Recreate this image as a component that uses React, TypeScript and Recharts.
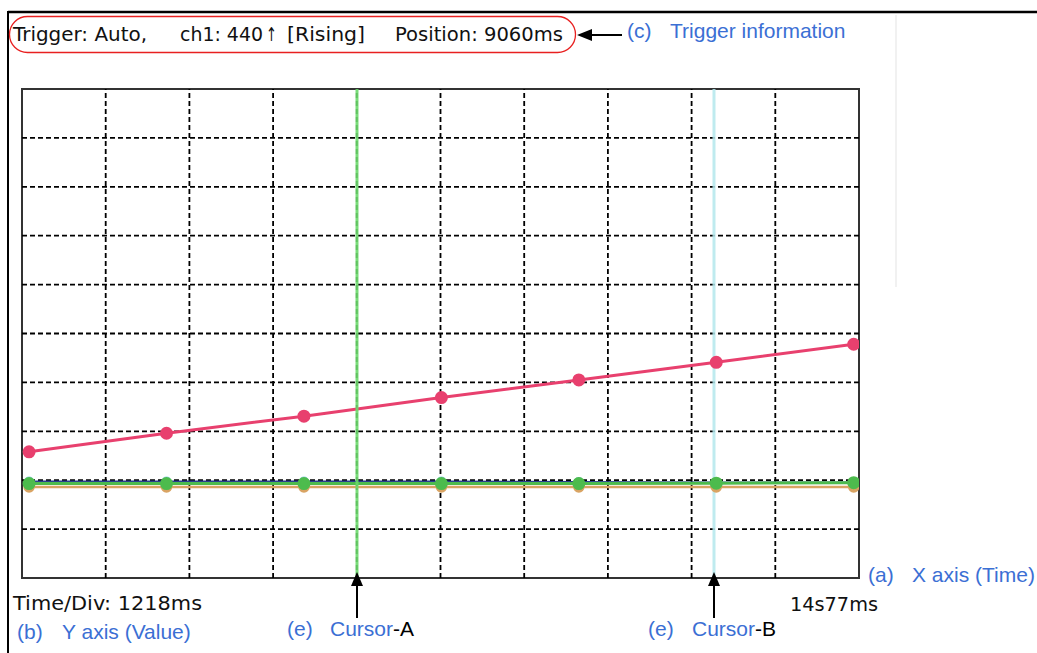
import React from 'react';
import { LineChart, Line, XAxis, YAxis, ReferenceLine, ReferenceArea } from 'recharts';

// time (ms) of sample points
const times = [2000, 4000, 6000, 8000, 10000, 12000, 14000];
// channel values (in divisions, 0..10)
const pinkValues = [2.58, 2.96, 3.31, 3.69, 4.05, 4.41, 4.78];
const greenValues = [1.93, 1.93, 1.93, 1.93, 1.93, 1.94, 1.95];
const orangeValues = [1.86, 1.86, 1.86, 1.86, 1.86, 1.86, 1.86];
const blueValues = [1.98, 1.98, 1.98, 1.98, 1.97, 1.96, 1.96];

const xDomain = [1897, 14077];
const yDomain = [0, 10];
const gridX = [3115, 4333, 5551, 6769, 7987, 9205, 10423, 11641, 12859];
const gridY = [1, 2, 3, 4, 5, 6, 7, 8, 9];
const cursorA = 6772;
const cursorB = 11967;

const data = times.map((t, i) => ({
  t,
  pink: pinkValues[i],
  green: greenValues[i],
  orange: orangeValues[i],
  blue: blueValues[i],
}));

const BLUE = '#3b6fd4';
const GOTHIC = '"DejaVu Sans", "Noto Sans", sans-serif';
const ARIAL = '"Liberation Sans", Arial, sans-serif';

export default function App() {
  return (
    <div style={{ position: 'absolute', left: 0, top: 0, width: 1037, height: 653, background: '#fff' }}>
      <LineChart
        width={1037}
        height={653}
        data={data}
        margin={{ top: 89, right: 178, bottom: 75, left: 22 }}
      >
        <XAxis dataKey="t" type="number" domain={xDomain} hide allowDataOverflow />
        <YAxis type="number" domain={yDomain} hide allowDataOverflow />
        {gridX.map((x) => (
          <ReferenceLine key={'gx' + x} x={x} stroke="#000" strokeWidth={1.8} strokeDasharray="5 3" />
        ))}
        {gridY.map((y) => (
          <ReferenceLine key={'gy' + y} y={y} stroke="#000" strokeWidth={1.8} strokeDasharray="5 3" />
        ))}
        <ReferenceArea x1={xDomain[0]} x2={xDomain[1]} y1={0} y2={10} fill="none" stroke="#333" strokeWidth={2} />
        <Line dataKey="orange" stroke="#d9a463" strokeWidth={2.5} dot={{ r: 4.5, fill: '#d9a463', stroke: '#d9a463' }} isAnimationActive={false} />
        <Line dataKey="blue" stroke="#2c3f8f" strokeWidth={1.5} dot={{ r: 4, fill: '#8fd0e8', stroke: '#8fd0e8' }} isAnimationActive={false} />
        <Line dataKey="green" stroke="#4dbb4d" strokeWidth={3} dot={{ r: 5, fill: '#4dbb4d', stroke: '#4dbb4d' }} isAnimationActive={false} />
        <Line dataKey="pink" stroke="#e8406e" strokeWidth={3} dot={{ r: 5, fill: '#e8406e', stroke: '#e8406e' }} isAnimationActive={false} />
        <ReferenceLine x={cursorA} stroke="#6ad86a" strokeWidth={3} strokeOpacity={0.9} />
        <ReferenceLine x={cursorB} stroke="#b4e8ec" strokeWidth={3} strokeOpacity={0.85} />
      </LineChart>
      <svg
        width={1037}
        height={653}
        style={{ position: 'absolute', left: 0, top: 0, pointerEvents: 'none' }}
      >
        {/* frame */}
        <line x1={8} y1={12} x2={1037} y2={12} stroke="#000" strokeWidth={2.5} />
        <line x1={8} y1={11} x2={8} y2={653} stroke="#000" strokeWidth={2} />
        <line x1={896} y1={15} x2={896} y2={287} stroke="#ececec" strokeWidth={1.5} />
        {/* trigger info */}
        <rect x={9.5} y={16.5} width={566} height={36} rx={18} ry={18} fill="none" stroke="#e82020" strokeWidth={1.3} />
        <g fontFamily={GOTHIC} fontSize={19} fill="#111">
          <text x={13} y={41} textLength={134} lengthAdjust="spacingAndGlyphs">Trigger: Auto,</text>
          <text x={180} y={41} textLength={83} lengthAdjust="spacingAndGlyphs">ch1: 440</text>
          <text x={266} y={41} textLength={11} lengthAdjust="spacingAndGlyphs">↑</text>
          <text x={287} y={41} textLength={78} lengthAdjust="spacingAndGlyphs">[Rising]</text>
          <text x={395} y={41} textLength={168} lengthAdjust="spacingAndGlyphs">Position: 9060ms</text>
          <text x={13} y={610} textLength={189} lengthAdjust="spacingAndGlyphs">Time/Div: 1218ms</text>
          <text x={790} y={611} textLength={88} lengthAdjust="spacingAndGlyphs">14s77ms</text>
        </g>
        <line x1={622} y1={35} x2={588} y2={35} stroke="#000" strokeWidth={2} />
        <path d="M577,35 L592,29 L592,41 Z" fill="#000" />
        {/* cursor arrows */}
        <line x1={357} y1={618} x2={357} y2={584} stroke="#000" strokeWidth={2} />
        <path d="M357,572 L351,586 L363,586 Z" fill="#000" />
        <line x1={714} y1={618} x2={714} y2={584} stroke="#000" strokeWidth={2} />
        <path d="M714,572 L708,586 L720,586 Z" fill="#000" />
        {/* blue annotations */}
        <g fontFamily={ARIAL} fontSize={21} fill={BLUE}>
          <text x={627} y={38}>(c)</text>
          <text x={670} y={38}>Trigger information</text>
          <text x={868} y={582}>(a)</text>
          <text x={912} y={582}>X axis (Time)</text>
          <text x={17} y={639}>(b)</text>
          <text x={62} y={639}>Y axis (Value)</text>
          <text x={287} y={636}>(e)</text>
          <text x={330} y={636}>Cursor<tspan fill="#000">-A</tspan></text>
          <text x={648} y={636}>(e)</text>
          <text x={692} y={636}>Cursor<tspan fill="#000">-B</tspan></text>
        </g>
      </svg>
    </div>
  );
}
